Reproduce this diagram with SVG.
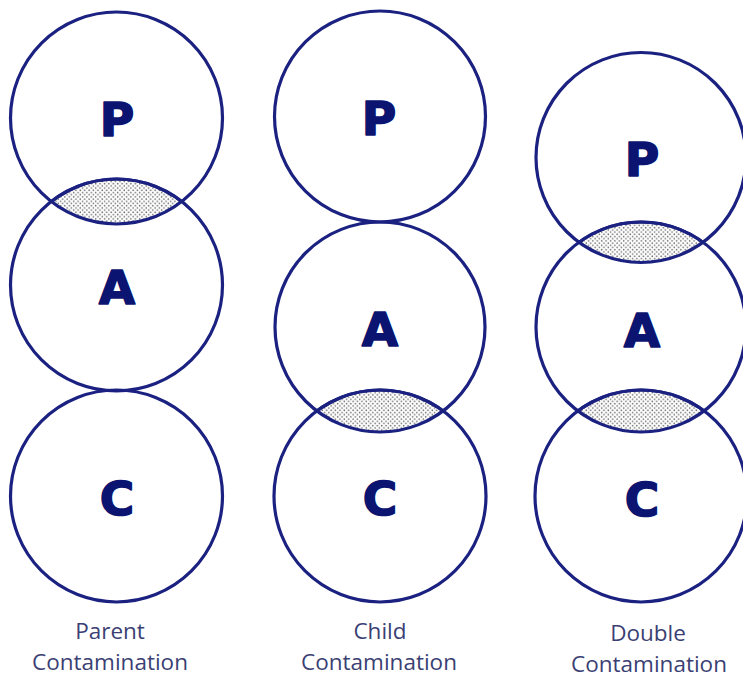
<svg xmlns="http://www.w3.org/2000/svg" width="743" height="678" viewBox="0 0 743 678">
  <style>
    .ring { fill: none; stroke: #1b2180; stroke-width: 3.2; }
    .lens { fill: url(#dots); stroke: #1b2180; stroke-width: 3.2; }
    .letter { font-family: "DejaVu Sans", "Liberation Sans", sans-serif; font-weight: bold; font-size: 47px; fill: #0b1470; stroke: #0b1470; stroke-width: 1.6; stroke-linejoin: round; text-anchor: middle; }
    .label { font-family: "Open Sans", "DejaVu Sans", sans-serif; font-size: 22.5px; fill: #3b3f73; text-anchor: middle; }
  </style>
  <defs>
    <pattern id="dots" width="4.4" height="4.4" patternUnits="userSpaceOnUse">
      <rect width="4.4" height="4.4" fill="#ffffff"/>
      <circle cx="1.1" cy="1.1" r="0.8" fill="#707070"/>
      <circle cx="3.3" cy="3.3" r="0.8" fill="#707070"/>
    </pattern>
    <clipPath id="clipP1"><circle cx="116.5" cy="118" r="106"/></clipPath>
    <clipPath id="clipA2"><circle cx="380" cy="327" r="105"/></clipPath>
    <clipPath id="clipP3"><circle cx="641" cy="157.5" r="105"/></clipPath>
    <clipPath id="clipA3"><circle cx="641" cy="327" r="105"/></clipPath>
  </defs>
  <rect width="743" height="678" fill="#ffffff"/>

  <g id="overlaps">
    <circle cx="116.5" cy="285" r="106" class="lens" clip-path="url(#clipP1)"/>
    <circle cx="380" cy="496" r="106" class="lens" clip-path="url(#clipA2)"/>
    <circle cx="641" cy="327" r="105" class="lens" clip-path="url(#clipP3)"/>
    <circle cx="641" cy="496" r="106" class="lens" clip-path="url(#clipA3)"/>
  </g>

  <g id="parent-contamination">
    <g id="p1"><circle cx="116.5" cy="118" r="106" class="ring"/><text x="117" y="136" class="letter">P</text></g>
    <g id="a1"><circle cx="116.5" cy="285" r="106" class="ring"/><text x="117" y="304" class="letter">A</text></g>
    <g id="c1"><circle cx="116.5" cy="496" r="106" class="ring"/><text x="117" y="515" class="letter">C</text></g>
    <g id="label1"><text x="110" y="639" class="label">Parent</text><text x="110" y="670" class="label">Contamination</text></g>
  </g>

  <g id="child-contamination">
    <g id="p2"><circle cx="380" cy="116.5" r="105.5" class="ring"/><text x="379" y="135" class="letter">P</text></g>
    <g id="a2"><circle cx="380" cy="327" r="105" class="ring"/><text x="380" y="346" class="letter">A</text></g>
    <g id="c2"><circle cx="380" cy="496" r="106" class="ring"/><text x="380" y="515" class="letter">C</text></g>
    <g id="label2"><text x="380" y="639" class="label">Child</text><text x="379" y="670" class="label">Contamination</text></g>
  </g>

  <g id="double-contamination">
    <g id="p3"><circle cx="641" cy="157.5" r="105" class="ring"/><text x="642" y="176" class="letter">P</text></g>
    <g id="a3"><circle cx="641" cy="327" r="105" class="ring"/><text x="642" y="347" class="letter">A</text></g>
    <g id="c3"><circle cx="641" cy="496" r="106" class="ring"/><text x="642" y="516" class="letter">C</text></g>
    <g id="label3"><text x="648" y="641" class="label">Double</text><text x="649" y="672" class="label">Contamination</text></g>
  </g>
</svg>
